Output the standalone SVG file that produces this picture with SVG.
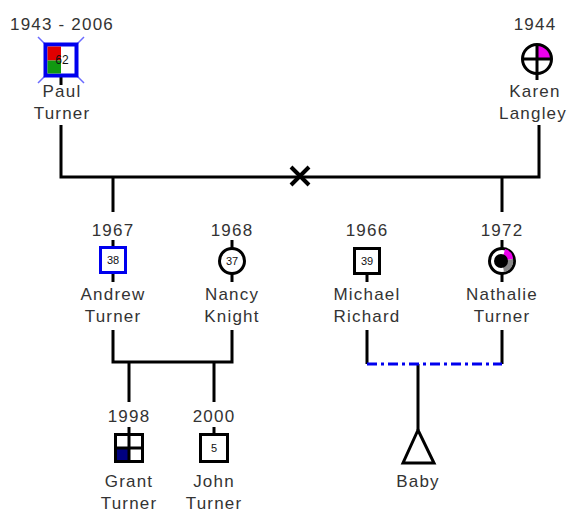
<svg xmlns="http://www.w3.org/2000/svg" width="568" height="512" viewBox="0 0 568 512">
<style>
.t{font-family:"Liberation Sans",Arial,sans-serif;font-size:17px;letter-spacing:1.2px;fill:#333;text-anchor:middle}
.n{font-family:"Liberation Sans",Arial,sans-serif;font-size:11px;fill:#111;text-anchor:middle}
.ln{stroke:#000;stroke-width:3;fill:none}
.sym{stroke:#000;stroke-width:3;fill:#fff}
</style>
<rect width="568" height="512" fill="#fff"/>
<g id="connectors">
<path class="ln" d="M61 125V177H539V125"/>
<path class="ln" d="M113 177V212M502 177V212"/>
<path d="M291 167L309 185M309 167L291 185" stroke="#000" stroke-width="4"/>
<path class="ln" d="M113 330V362H232V330M129 362V402M214 362V402"/>
<path class="ln" d="M367 330V364M502 330V364M418 364V430"/>
<path d="M367 364H502" stroke="#0000ee" stroke-width="3" stroke-dasharray="10,4,3,4"/>
</g>
<g id="paul">
<text class="t" x="62" y="30">1943 - 2006</text>
<path d="M38 37L84 83M84 37L38 83" stroke="#6a6aff" stroke-width="1.5"/>
<path class="ln" d="M61 76V85"/>
<rect x="45.5" y="44.5" width="31" height="31" fill="#fff" stroke="#0000ee" stroke-width="4"/>
<rect x="47.5" y="46.5" width="13.5" height="14" fill="#e00000"/>
<rect x="47.5" y="60.5" width="13.5" height="13" fill="#119911"/>
<text class="n" x="62" y="64" style="font-size:12px">62</text>
<text class="t" x="62" y="97">Paul</text>
<text class="t" x="62" y="119">Turner</text>
</g>
<g id="karen">
<text class="t" x="535" y="30">1944</text>
<path d="M537 59V44A15 15 0 0 1 552 59Z" fill="#ee00ee"/>
<circle cx="537" cy="59" r="14.5" fill="none" stroke="#000" stroke-width="3"/>
<path class="ln" d="M537 44V80M522 59H552"/>
<text class="t" x="535" y="97">Karen</text>
<text class="t" x="533" y="119">Langley</text>
</g>
<g id="andrew">
<text class="t" x="113" y="236">1967</text>
<path class="ln" d="M113 240V282"/>
<rect x="100.5" y="247.5" width="25" height="25" fill="#fff" stroke="#0000ee" stroke-width="3"/>
<text class="n" x="113" y="264">38</text>
<text class="t" x="113" y="300">Andrew</text>
<text class="t" x="113" y="322">Turner</text>
</g>
<g id="nancy">
<text class="t" x="232" y="236">1968</text>
<path class="ln" d="M232 240V282"/>
<circle class="sym" cx="232" cy="261" r="12.5"/>
<text class="n" x="232" y="265">37</text>
<text class="t" x="232" y="300">Nancy</text>
<text class="t" x="232" y="322">Knight</text>
</g>
<g id="michael">
<text class="t" x="367" y="236">1966</text>
<path class="ln" d="M367 270V282"/>
<rect class="sym" x="354.5" y="248.5" width="25" height="25"/>
<text class="n" x="367" y="265">39</text>
<text class="t" x="367" y="300">Michael</text>
<text class="t" x="367" y="322">Richard</text>
</g>
<g id="nathalie">
<text class="t" x="502" y="236">1972</text>
<path class="ln" d="M502 240V282"/>
<circle class="sym" cx="502" cy="261" r="12.5"/>
<path d="M502 261L505 249A11 11 0 0 1 513 259Z" fill="#ee00ee"/>
<path d="M502 261L513 259A11 11 0 0 1 504 272Z" fill="#888"/>
<circle cx="501" cy="261" r="7" fill="#000"/>
<text class="t" x="502" y="300">Nathalie</text>
<text class="t" x="502" y="322">Turner</text>
</g>
<g id="grant">
<text class="t" x="129" y="422">1998</text>
<path class="ln" d="M129 427V434"/>
<rect x="115.5" y="434.5" width="27" height="27" fill="#fff" stroke="#000" stroke-width="3"/>
<rect x="117" y="448" width="12" height="12" fill="#000080"/>
<path class="ln" d="M129 434V462M115 448H143"/>
<text class="t" x="129" y="487">Grant</text>
<text class="t" x="129" y="509">Turner</text>
</g>
<g id="john">
<text class="t" x="214" y="422">2000</text>
<path class="ln" d="M214 427V434"/>
<rect class="sym" x="200.5" y="434.5" width="27" height="27"/>
<text class="n" x="214" y="452">5</text>
<text class="t" x="214" y="487">John</text>
<text class="t" x="214" y="509">Turner</text>
</g>
<g id="baby">
<path d="M418 430L403 463H434Z" fill="#fff" stroke="#000" stroke-width="3" stroke-linejoin="miter"/>
<text class="t" x="418" y="487">Baby</text>
</g>
</svg>
